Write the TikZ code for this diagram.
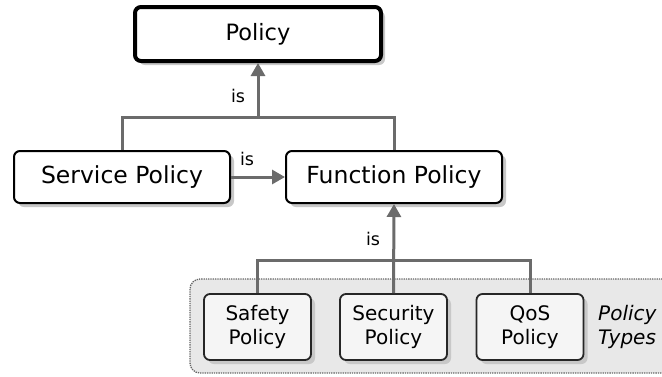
\documentclass[tikz,border=0pt]{standalone}
\usepackage{fontspec}
\setmainfont{DejaVu Sans}
\usetikzlibrary{arrows.meta,shadows}
\definecolor{linkgray}{HTML}{6B6B6B}
\definecolor{shadowgray}{HTML}{C8C8C8}
\definecolor{groupfill}{HTML}{E8E8E8}
\definecolor{typefill}{HTML}{F5F5F5}
\tikzset{
  boxshadow/.style={drop shadow={shadow xshift=4pt,shadow yshift=-4pt,fill=shadowgray,opacity=1}},
  mainbox/.style={draw=black,line width=2pt,rounded corners=6pt,fill=white,boxshadow,
    minimum width=216pt,minimum height=52pt,inner sep=0pt,
    font=\fontsize{23.5}{28}\selectfont},
  rootbox/.style={mainbox,line width=4pt,minimum width=246pt,minimum height=54pt,
    font=\fontsize{22.5}{27}\selectfont},
  typebox/.style={draw=black!85,line width=1.8pt,rounded corners=6pt,fill=typefill,boxshadow,
    minimum width=107pt,minimum height=66pt,inner sep=0pt,align=center,
    font=\fontsize{20}{24.5}\selectfont},
  link/.style={draw=linkgray,line width=3pt},
  isarrow/.style={link,-{Triangle[width=14pt,length=13pt]}},
  islabel/.style={font=\fontsize{17.5}{20}\selectfont,inner sep=0pt},
  groupbox/.style={draw=black!60,line width=1.3pt,densely dotted,fill=groupfill,rounded corners=10pt},
}
\begin{document}
\begin{tikzpicture}[x=1pt,y=-1pt]
  \useasboundingbox (0,0) rectangle (662,376);
  % policy type group
  \begin{scope}
    \clip (0,0) rectangle (662,376);
    \draw[groupbox] (190,279) rectangle (690,373);
  \end{scope}
  \node[anchor=west,align=left,font=\fontsize{20}{24.5}\selectfont\itshape,inner sep=0pt] (types) at (598,327) {Policy\\Types};

  % boxes
  \node[rootbox] (root) at (258,34) {Policy};
  \node[mainbox] (service) at (122,177) {Service Policy};
  \node[mainbox] (function) at (394,177) {Function Policy};
  \node[typebox] (safety) at (257.5,327) {Safety\\Policy};
  \node[typebox] (security) at (393.5,327) {Security\\Policy};
  \node[typebox] (qos) at (530,327) {QoS\\Policy};

  % generalisation links
  \coordinate (bustop) at (258,117);
  \coordinate (buslow) at (393.5,260);
  \draw[link] (service.north) |- (bustop) -| (function.north);
  \draw[isarrow] (bustop) -- (root.south);
  \draw[isarrow] (service.east) -- (function.west);
  \draw[link] (safety.north) |- (buslow) -| (qos.north);
  \draw[isarrow] (security.north) -- (function.south);

  % labels
  \node[islabel] (l1) at (238,96) {is};
  \node[islabel] (l2) at (247,159) {is};
  \node[islabel] (l3) at (373,239) {is};
\end{tikzpicture}
\end{document}
